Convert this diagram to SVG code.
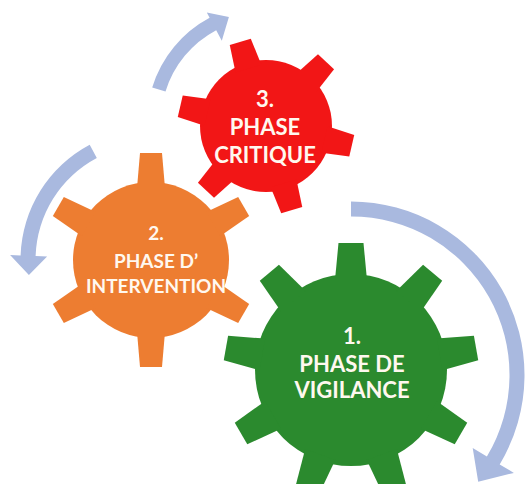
<svg xmlns="http://www.w3.org/2000/svg" width="526" height="484" viewBox="0 0 526 484">
<defs>
<style>
.arrow{fill:#a9b9df}
.lbl{font-family:Lato,"Open Sans","Liberation Sans",sans-serif;font-weight:bold;fill:#fff8ef;text-anchor:middle}
</style>
<polygon id="t9" points="-16,-90 -12.5,-127 12.5,-127 16,-90"/>
<polygon id="t6o" points="-14,-72 -11,-107 11,-107 14,-72"/>
<polygon id="t6r" points="-13.5,-60 -11,-88 11,-88 13.5,-60"/>
</defs>
<rect width="526" height="484" fill="#ffffff"/>
<g id="connectors">
<path class="arrow" d="M152.2 87.5 A118 118 0 0 1 209.6 17.8 L206.8 12.5 L228.9 17 L221.8 40.8 L216.2 30.2 A104 104 0 0 0 165.5 91.6 Z"/>
<path class="arrow" d="M89.7 144.8 A130.5 130.5 0 0 0 20.6 255.4 L10.1 255.1 L28.9 275 L47.1 256.4 L35.6 256 A115.5 115.5 0 0 1 96.8 158 Z"/>
<path class="arrow" d="M351 201.5 A173.5 173.5 0 0 1 499.7 464.4 L513.9 472.9 L478.2 481.7 L472.7 448.1 L486.9 456.6 A158.5 158.5 0 0 0 351 216.5 Z"/>
</g>
<g id="phase-critique">
<g fill="#f21616" transform="translate(266,126)">
<circle r="66"/>
<use href="#t6r" transform="rotate(-17)"/>
<use href="#t6r" transform="rotate(43)"/>
<use href="#t6r" transform="rotate(103)"/>
<use href="#t6r" transform="rotate(163)"/>
<use href="#t6r" transform="rotate(223)"/>
<use href="#t6r" transform="rotate(283)"/>
</g>
<text class="lbl" font-size="22" x="265" y="107">3.</text>
<text class="lbl" font-size="22" x="265" y="135">PHASE</text>
<text class="lbl" font-size="22" x="265" y="163">CRITIQUE</text>
</g>
<g id="phase-intervention">
<g fill="#ed7d31" transform="translate(151,260)">
<circle r="78"/>
<use href="#t6o"/>
<use href="#t6o" transform="rotate(60)"/>
<use href="#t6o" transform="rotate(120)"/>
<use href="#t6o" transform="rotate(180)"/>
<use href="#t6o" transform="rotate(240)"/>
<use href="#t6o" transform="rotate(300)"/>
</g>
<text class="lbl" font-size="19" x="156" y="240">2.</text>
<text class="lbl" font-size="19" x="156" y="268">PHASE D’</text>
<text class="lbl" font-size="19" x="156" y="293">INTERVENTION</text>
</g>
<g id="phase-vigilance">
<g fill="#2b8a2e" transform="translate(351,370)">
<circle r="96"/>
<use href="#t9"/>
<use href="#t9" transform="rotate(40)"/>
<use href="#t9" transform="rotate(80)"/>
<use href="#t9" transform="rotate(120)"/>
<use href="#t9" transform="rotate(160)"/>
<use href="#t9" transform="rotate(200)"/>
<use href="#t9" transform="rotate(240)"/>
<use href="#t9" transform="rotate(280)"/>
<use href="#t9" transform="rotate(320)"/>
</g>
<text class="lbl" font-size="22" x="352" y="344">1.</text>
<text class="lbl" font-size="22" x="352" y="372">PHASE DE</text>
<text class="lbl" font-size="22" x="352" y="398">VIGILANCE</text>
</g>
</svg>
